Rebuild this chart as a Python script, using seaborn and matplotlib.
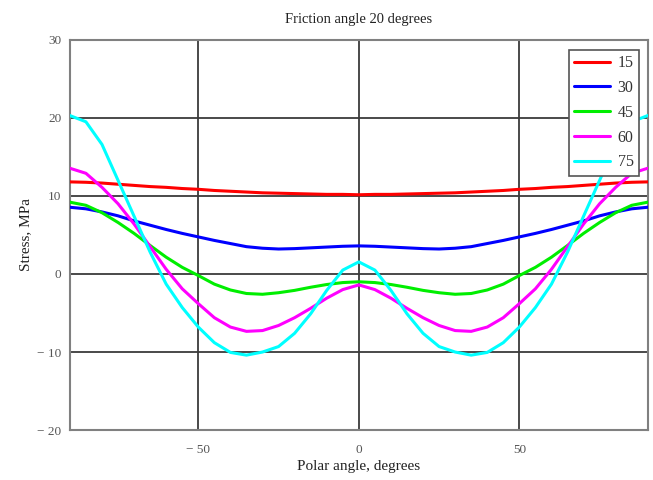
import numpy as np
import pandas as pd
import matplotlib
matplotlib.use("Agg")
import matplotlib.pyplot as plt
import seaborn as sns

# polar angle, degrees
angles = [-90, -85, -80, -75, -70, -65, -60, -55, -50, -45, -40, -35, -30, -25, -20, -15, -10, -5,
          0, 5, 10, 15, 20, 25, 30, 35, 40, 45, 50, 55, 60, 65, 70, 75, 80, 85, 90]

# stress, MPa, one series per curve
s15 = [11.8, 11.75, 11.65, 11.5, 11.35, 11.2, 11.1, 10.95, 10.85, 10.7, 10.6, 10.5, 10.4, 10.35, 10.3, 10.25, 10.2, 10.2,
       10.15, 10.2, 10.2, 10.25, 10.3, 10.35, 10.4, 10.5, 10.6, 10.7, 10.85, 10.95, 11.1, 11.2, 11.35, 11.5, 11.65, 11.75, 11.8]
s30 = [8.55, 8.35, 7.95, 7.45, 6.8, 6.25, 5.7, 5.2, 4.75, 4.3, 3.9, 3.5, 3.3, 3.2, 3.25, 3.35, 3.45, 3.55,
       3.6, 3.55, 3.45, 3.35, 3.25, 3.2, 3.3, 3.5, 3.9, 4.3, 4.75, 5.2, 5.7, 6.25, 6.8, 7.45, 7.95, 8.35, 8.55]
s45 = [9.2, 8.8, 7.85, 6.6, 5.2, 3.65, 2.15, 0.85, -0.2, -1.3, -2.05, -2.5, -2.6, -2.4, -2.1, -1.7, -1.35, -1.1,
       -1.0, -1.1, -1.35, -1.7, -2.1, -2.4, -2.6, -2.5, -2.05, -1.3, -0.2, 0.85, 2.15, 3.65, 5.2, 6.6, 7.85, 8.8, 9.2]
s60 = [13.55, 12.9, 11.1, 9.0, 6.4, 3.5, 0.6, -1.9, -3.8, -5.6, -6.8, -7.35, -7.25, -6.6, -5.6, -4.4, -3.1, -2.0,
       -1.4, -2.0, -3.1, -4.4, -5.6, -6.6, -7.25, -7.35, -6.8, -5.6, -3.8, -1.9, 0.6, 3.5, 6.4, 9.0, 11.1, 12.9, 13.55]
s75 = [20.3, 19.5, 16.6, 12.0, 7.4, 2.8, -1.3, -4.3, -6.8, -8.8, -10.05, -10.4, -10.0, -9.3, -7.6, -5.1, -2.1, 0.5,
       1.55, 0.5, -2.1, -5.1, -7.6, -9.3, -10.0, -10.4, -10.05, -8.8, -6.8, -4.3, -1.3, 2.8, 7.4, 12.0, 16.6, 19.5, 20.3]

series = ["15", "30", "45", "60", "75"]
colors = ["#ff0000", "#0000ff", "#00ee00", "#ff00ff", "#00ffff"]

frames = []
for name, vals in zip(series, [s15, s30, s45, s60, s75]):
    frames.append(pd.DataFrame({"angle": angles, "stress": vals, "series": name}))
df = pd.concat(frames, ignore_index=True)

sns.set_theme(style="white")
plt.rcParams["font.family"] = ["Liberation Serif", "DejaVu Serif"]

fig = plt.figure(figsize=(6.53, 4.8), dpi=100)
ax = fig.add_axes([0.107, 0.104, 0.885, 0.813])

sns.lineplot(data=df, x="angle", y="stress", hue="series", hue_order=series,
             palette=dict(zip(series, colors)), linewidth=2.2, ax=ax, zorder=3)

ax.set_xlim(-90, 90)
ax.set_ylim(-20, 30)
ax.set_xticks([-50, 0, 50])
ax.set_xticklabels(["\u2212 50", "0", "50"])
ax.set_yticks([-20, -10, 0, 10, 20, 30])
ax.set_yticklabels(["\u2212 20", "\u2212 10", "0", "10", "20", "30"])
ax.grid(True, color="#3a3a3a", linewidth=1.3, zorder=1)
ax.set_axisbelow(True)
ax.tick_params(axis="both", direction="out", length=4, width=1, color="#707070",
               labelsize=9.5, labelcolor="#555555", pad=2)
ax.tick_params(axis="x", pad=6)
for sp in ax.spines.values():
    sp.set_color("#808080")
    sp.set_linewidth(1.5)

ax.set_title("Friction angle 20 degrees", fontsize=10.5, color="#222222", pad=12)
ax.set_xlabel("Polar angle, degrees", fontsize=11, color="#222222", labelpad=3)
ax.set_ylabel("Stress, MPa", fontsize=11, color="#222222", labelpad=4)

leg = ax.legend(loc="upper right", bbox_to_anchor=(0.985, 0.975), fontsize=11.5,
                frameon=True, fancybox=False, framealpha=1, edgecolor="#555555",
                handlelength=2.2, handletextpad=0.5, borderpad=0.35, labelspacing=0.55,
                borderaxespad=0)
leg.get_frame().set_linewidth(1.2)
for t in leg.get_texts():
    t.set_color("#333333")

fig.savefig("out.png", dpi=100)
